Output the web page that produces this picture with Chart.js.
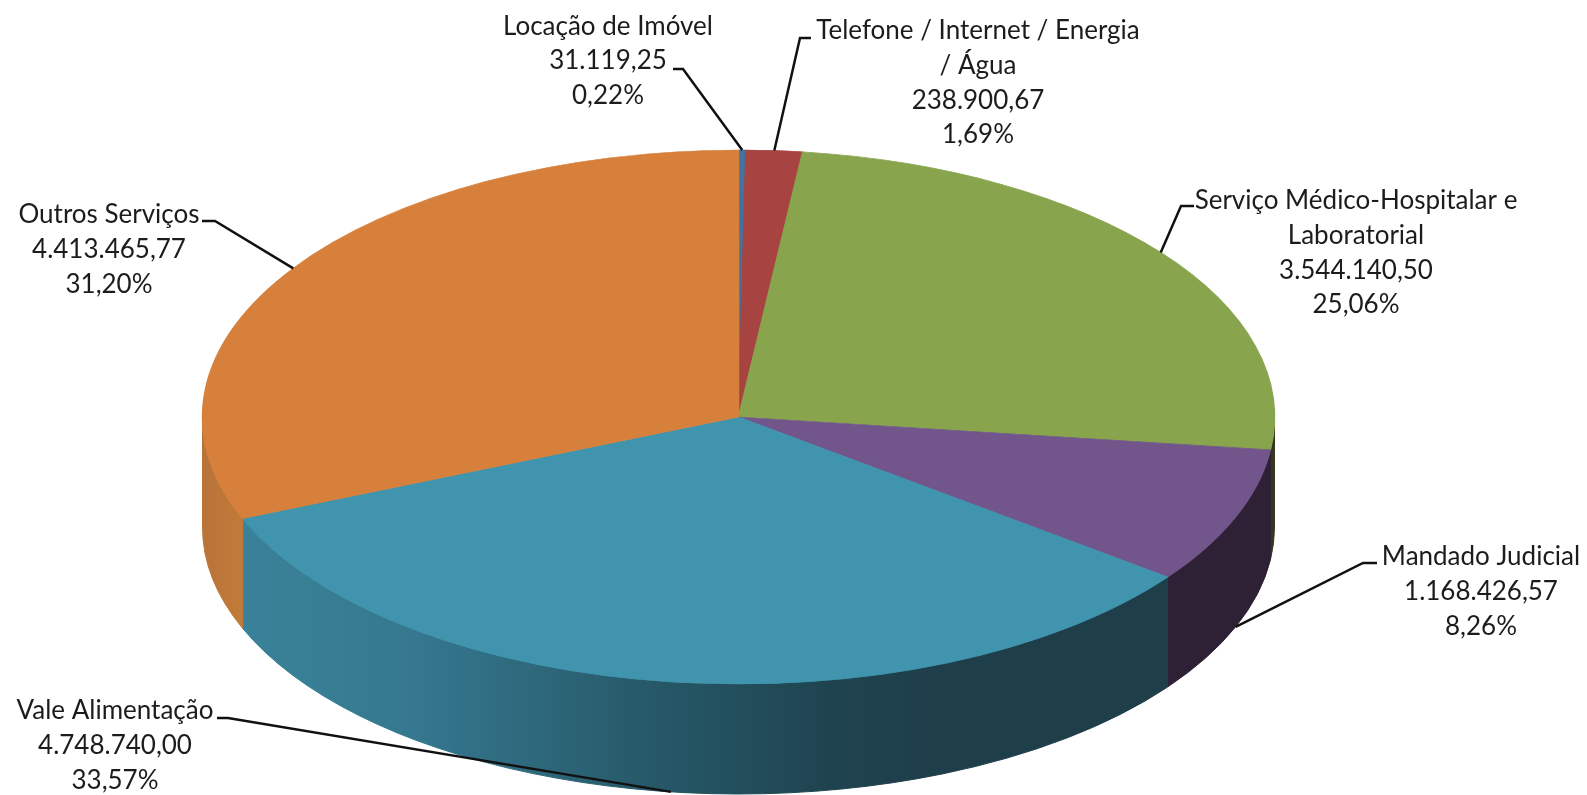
<!DOCTYPE html>
<html>
<head>
<meta charset="utf-8">
<style>
  html, body { margin: 0; padding: 0; background: #fff; }
  #wrap { width: 1587px; height: 795px; position: relative; overflow: hidden; }
</style>
<script src="https://cdn.jsdelivr.net/npm/chart.js@4"></script>
</head>
<body>
<div id="wrap"><canvas id="chart" width="1587" height="795"></canvas></div>
<script>
// data
const categories = [
  ["Locação de Imóvel"],
  ["Telefone / Internet / Energia", "/ Água"],
  ["Serviço Médico-Hospitalar e", "Laboratorial"],
  ["Mandado Judicial"],
  ["Vale Alimentação"],
  ["Outros Serviços"]
];
const values = [31119.25, 238900.67, 3544140.50, 1168426.57, 4748740.00, 4413465.77];
const percents = ["0,22%", "1,69%", "25,06%", "8,26%", "33,57%", "31,20%"];

const topColors = ["#44719f", "#a74442", "#88a54e", "#71558b", "#4094ae", "#d6803c"];
const wallColors = ["#2f4f72", "#752f2e", "#33381f", "#2e2035", "#1e3e4a", "#bd7636"];

// look of the squashed disc
const centerX = 738.5, centerY = 417, radiusX = 536, radiusY = 267, depth = 110;

// label block: centre x, y of each line; knee: start and bend of the leader
const labelX = [608, 978, 1356, 1481, 115, 109];
const labelY = [26.5, 31, 201, 557, 711, 215];
const lineGap = 34.6;
const knees = [
  [[673, 69], [683, 69]],
  [[811, 38], [800, 38]],
  [[1194, 206], [1181, 206]],
  [[1377, 563], [1363, 563]],
  [[217, 718], [228, 718]],
  [[202, 221], [215, 221]]
];

function formatValue(v) {
  const parts = v.toFixed(2).split(".");
  return parts[0].replace(/\B(?=(\d{3})+$)/g, ".") + "," + parts[1];
}

// side wall of the slices that face the viewer, angles taken from the library's arcs
function drawWalls(ctx, arcs) {
  const tealGrad = ctx.createLinearGradient(242, 0, 930, 0);
  tealGrad.addColorStop(0, "#3a8299");
  tealGrad.addColorStop(0.25, "#35788f");
  tealGrad.addColorStop(0.6, "#265868");
  tealGrad.addColorStop(0.85, "#1f4450");
  tealGrad.addColorStop(1, "#1e3e4a");
  const orangeGrad = ctx.createLinearGradient(201, 0, 242, 0);
  orangeGrad.addColorStop(0, "#b8733a");
  orangeGrad.addColorStop(1, "#c27a37");

  arcs.forEach((arc, i) => {
    const a0 = Math.max(arc.startAngle, 0);
    const a1 = Math.min(arc.endAngle, Math.PI);
    if (a1 <= a0) return;
    const fill = i === 4 ? tealGrad : i === 5 ? orangeGrad : wallColors[i];
    ctx.beginPath();
    ctx.ellipse(centerX, centerY, radiusX, radiusY, 0, a0, a1);
    ctx.ellipse(centerX, centerY + depth, radiusX, radiusY, 0, a1, a0, true);
    ctx.closePath();
    ctx.fillStyle = fill;
    ctx.fill();
    // closes the hairline between two walls
    ctx.strokeStyle = fill;
    ctx.lineWidth = 1;
    ctx.stroke();
  });
}

const pie3d = {
  id: "pie3d",
  beforeDatasetsDraw(chart) {
    const ctx = chart.ctx;
    const arcs = chart.getDatasetMeta(0).data;
    drawWalls(ctx, arcs);
    const a = arcs[0];
    ctx.save();
    ctx.translate(centerX, centerY);
    ctx.scale(radiusX / a.outerRadius, radiusY / a.outerRadius);
    ctx.translate(-a.x, -a.y);
  },
  afterDatasetsDraw(chart) {
    const ctx = chart.ctx;
    ctx.restore();

    const arcs = chart.getDatasetMeta(0).data;
    ctx.strokeStyle = "#111";
    ctx.lineWidth = 2.5;
    arcs.forEach((arc, i) => {
      const mid = (arc.startAngle + arc.endAngle) / 2;
      const x = centerX + radiusX * Math.cos(mid);
      let y = centerY + radiusY * Math.sin(mid);
      if (Math.sin(mid) > 0) y += depth;
      ctx.beginPath();
      ctx.moveTo(knees[i][0][0], knees[i][0][1]);
      ctx.lineTo(knees[i][1][0], knees[i][1][1]);
      ctx.lineTo(x, y);
      ctx.stroke();
    });

    ctx.fillStyle = "#1c1c1c";
    ctx.font = "26px Lato";
    ctx.textAlign = "center";
    ctx.textBaseline = "middle";
    categories.forEach((cat, i) => {
      const lines = cat.concat([formatValue(values[i]), percents[i]]);
      lines.forEach((txt, n) => ctx.fillText(txt, labelX[i], labelY[i] + n * lineGap));
    });
  }
};

new Chart(document.getElementById("chart"), {
  type: "pie",
  data: {
    labels: categories.map(c => c.join(" ")),
    datasets: [{
      data: values,
      backgroundColor: topColors,
      borderColor: topColors,
      borderWidth: 1,
      clip: false
    }]
  },
  options: {
    responsive: false,
    animation: false,
    layout: { padding: { top: 39 } },
    plugins: {
      legend: { display: false },
      tooltip: { enabled: false }
    }
  },
  plugins: [pie3d]
});
</script>
</body>
</html>
